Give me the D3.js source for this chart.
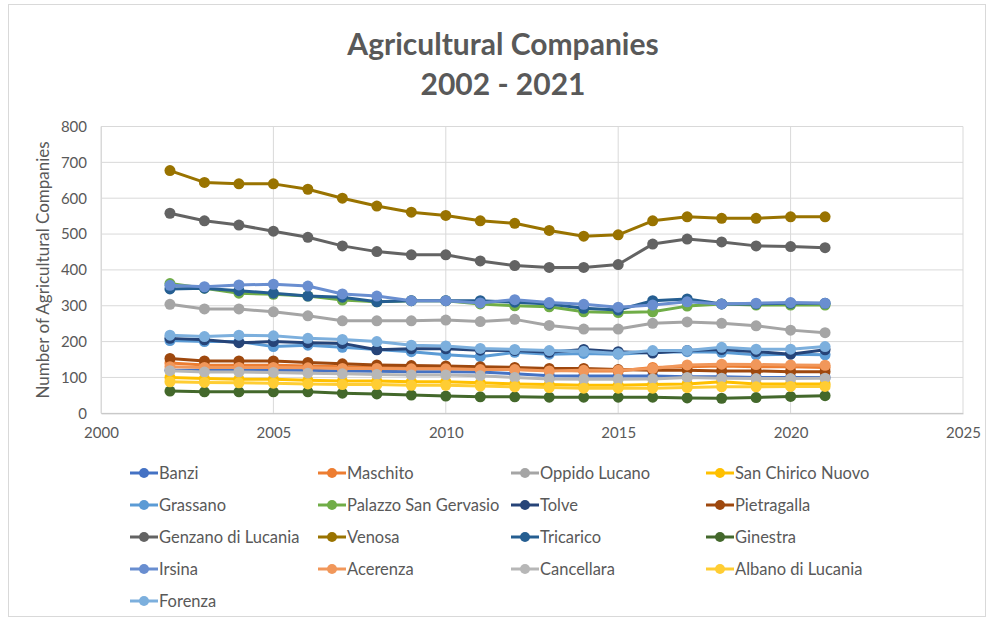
<!DOCTYPE html>
<html>
<head>
<meta charset="utf-8">
<script src="https://cdn.jsdelivr.net/npm/d3@7"></script>
<style>
  html, body { margin: 0; padding: 0; background: #fff; }
  svg { display: block; }
  text { font-family: Lato, "Open Sans", sans-serif; }
</style>
</head>
<body>
<svg id="chart" width="990" height="622"></svg>
<script>
// Years on the x axis
const years = d3.range(2002, 2022);

// Municipalities, in legend order
const names = [
  "Banzi", "Maschito", "Oppido Lucano", "San Chirico Nuovo",
  "Grassano", "Palazzo San Gervasio", "Tolve", "Pietragalla",
  "Genzano di Lucania", "Venosa", "Tricarico", "Ginestra",
  "Irsina", "Acerenza", "Cancellara", "Albano di Lucania",
  "Forenza"
];

const colors = [
  "#4472C4", "#ED7D31", "#A5A5A5", "#FFC000",
  "#5B9BD5", "#70AD47", "#264478", "#9E480E",
  "#636363", "#997300", "#255E91", "#43682B",
  "#698ED0", "#F1975A", "#B7B7B7", "#FFCD33",
  "#7CAFDD"
];

// Number of agricultural companies per year (2002 ... 2021)
const banzi      = [120, 120, 120, 120, 120, 118, 117, 116, 116, 115, 110, 105, 104, 104, 104, 102, 102, 100, 100, 100];
const maschito   = [140, 135, 134, 134, 132, 130, 128, 127, 126, 124, 122, 120, 118, 118, 128, 130, 132, 130, 130, 128];
const oppido     = [304, 291, 291, 283, 272, 258, 258, 258, 260, 256, 262, 245, 235, 235, 251, 255, 251, 244, 232, 225];
const sanChirico = [100, 97, 95, 95, 92, 90, 90, 88, 88, 85, 82, 80, 78, 78, 80, 82, 88, 82, 82, 82];
const grassano   = [203, 200, 200, 186, 190, 184, 178, 172, 163, 158, 170, 165, 167, 165, 170, 172, 170, 163, 165, 163];
const palazzo    = [362, 349, 335, 332, 327, 316, 311, 314, 314, 305, 300, 297, 283, 281, 283, 299, 305, 302, 302, 302];
const tolve      = [209, 205, 197, 200, 197, 195, 177, 180, 180, 176, 175, 170, 178, 172, 168, 175, 178, 172, 165, 177];
const pietragalla= [153, 146, 146, 146, 142, 138, 135, 133, 132, 130, 128, 125, 125, 122, 120, 120, 118, 118, 116, 116];
const genzano    = [558, 537, 525, 508, 491, 467, 451, 442, 442, 425, 412, 407, 407, 415, 472, 486, 478, 467, 465, 462];
const venosa     = [677, 644, 640, 640, 625, 600, 578, 561, 552, 537, 530, 510, 494, 498, 537, 548, 544, 544, 548, 548];
const tricarico  = [347, 349, 342, 335, 327, 324, 311, 314, 314, 314, 310, 305, 293, 288, 314, 319, 305, 305, 307, 307];
const ginestra   = [62, 60, 60, 60, 60, 56, 54, 51, 48, 46, 46, 45, 45, 45, 45, 43, 42, 44, 47, 49];
const irsina     = [357, 353, 358, 360, 355, 333, 327, 314, 314, 308, 317, 309, 304, 296, 302, 311, 305, 307, 309, 307];
const acerenza   = [130, 128, 128, 128, 127, 125, 125, 124, 124, 122, 122, 118, 120, 120, 125, 135, 137, 136, 135, 134];
const cancellara = [119, 115, 115, 114, 112, 110, 108, 107, 107, 105, 100, 96, 95, 95, 96, 100, 98, 97, 97, 98];
const albano     = [88, 86, 85, 84, 82, 80, 80, 78, 78, 76, 74, 72, 70, 70, 70, 72, 74, 74, 75, 75];
const forenza    = [218, 214, 218, 216, 209, 206, 200, 190, 188, 181, 178, 175, 173, 167, 175, 175, 184, 179, 179, 186];

const values = [
  banzi, maschito, oppido, sanChirico,
  grassano, palazzo, tolve, pietragalla,
  genzano, venosa, tricarico, ginestra,
  irsina, acerenza, cancellara, albano,
  forenza
];

const xTicks = [2000, 2005, 2010, 2015, 2020, 2025];
const yTicks = [0, 100, 200, 300, 400, 500, 600, 700, 800];

const series = names.map((n, i) => ({
  name: n,
  color: colors[i],
  points: years.map((y, j) => ({ year: y, value: values[i][j] }))
}));

const svg = d3.select("#chart");
const textColor = "#595959";
const gridColor = "#D9D9D9";

// outer frame
svg.append("rect")
  .attr("x", 8.5).attr("y", 4.5)
  .attr("width", 977).attr("height", 612)
  .attr("fill", "#fff")
  .attr("stroke", "#D9D9D9");

const plot = { left: 101, right: 963, top: 126.5, bottom: 413.3 };

const x = d3.scaleLinear().domain([2000, 2025]).range([plot.left, plot.right]);
const y = d3.scaleLinear().domain([0, 800]).range([plot.bottom, plot.top]);

// gridlines
const grid = svg.append("g");
grid.selectAll("line.h").data(yTicks).join("line")
  .attr("x1", plot.left).attr("x2", plot.right)
  .attr("y1", d => y(d)).attr("y2", d => y(d))
  .attr("stroke", gridColor).attr("stroke-width", 1);
grid.selectAll("line.v").data(xTicks).join("line")
  .attr("y1", plot.top).attr("y2", plot.bottom)
  .attr("x1", d => x(d)).attr("x2", d => x(d))
  .attr("stroke", gridColor).attr("stroke-width", 1);

// axes
const yAxis = svg.append("g")
  .attr("transform", `translate(${plot.left},0)`)
  .call(d3.axisLeft(y).tickValues(yTicks).tickSize(0).tickPadding(14));
yAxis.select(".domain").attr("stroke", gridColor);
yAxis.selectAll("text").attr("fill", textColor).attr("font-size", 15)
  .style("font-family", "Lato, sans-serif");

const xAxis = svg.append("g")
  .attr("transform", `translate(0,${plot.bottom})`)
  .call(d3.axisBottom(x).tickValues(xTicks).tickFormat(d3.format("d")).tickSize(0).tickPadding(14));
xAxis.select(".domain").attr("stroke", "#BFBFBF");
xAxis.selectAll("text").attr("fill", textColor).attr("font-size", 15)
  .style("font-family", "Lato, sans-serif");

// axis title
svg.append("text")
  .attr("transform", `translate(49,${(plot.top + plot.bottom) / 2}) rotate(-90)`)
  .attr("text-anchor", "middle")
  .attr("fill", textColor)
  .attr("font-size", 17)
  .text("Number of Agricultural Companies");

// chart title
const title = svg.append("g").attr("fill", textColor)
  .attr("font-weight", "bold").attr("font-size", 30).attr("text-anchor", "middle");
title.append("text").attr("x", 503).attr("y", 55).text("Agricultural Companies");
title.append("text").attr("x", 503).attr("y", 95).text("2002 - 2021");

// lines and markers
const line = d3.line().x(d => x(d.year)).y(d => y(d.value));
const lines = svg.append("g");
series.forEach(s => {
  const g = lines.append("g");
  g.append("path")
    .attr("d", line(s.points))
    .attr("fill", "none")
    .attr("stroke", s.color)
    .attr("stroke-width", 3)
    .attr("stroke-linejoin", "round");
  g.selectAll("circle").data(s.points).join("circle")
    .attr("cx", d => x(d.year)).attr("cy", d => y(d.value))
    .attr("r", 5.5)
    .attr("fill", s.color);
});

// legend
const colX = [130, 318, 511, 706];
const rowY = [473, 505, 537, 569, 601];
const legend = svg.append("g");
series.forEach((s, i) => {
  const cx = colX[i % 4], cy = rowY[Math.floor(i / 4)];
  const g = legend.append("g").attr("transform", `translate(${cx},${cy})`);
  g.append("line").attr("x1", 0).attr("x2", 28).attr("y1", 0).attr("y2", 0)
    .attr("stroke", s.color).attr("stroke-width", 3);
  g.append("circle").attr("cx", 14).attr("cy", 0).attr("r", 5).attr("fill", s.color);
  g.append("text").attr("x", 29).attr("y", 0).attr("dy", "0.35em")
    .attr("fill", textColor).attr("font-size", 16.5).text(s.name);
});
</script>
</body>
</html>
